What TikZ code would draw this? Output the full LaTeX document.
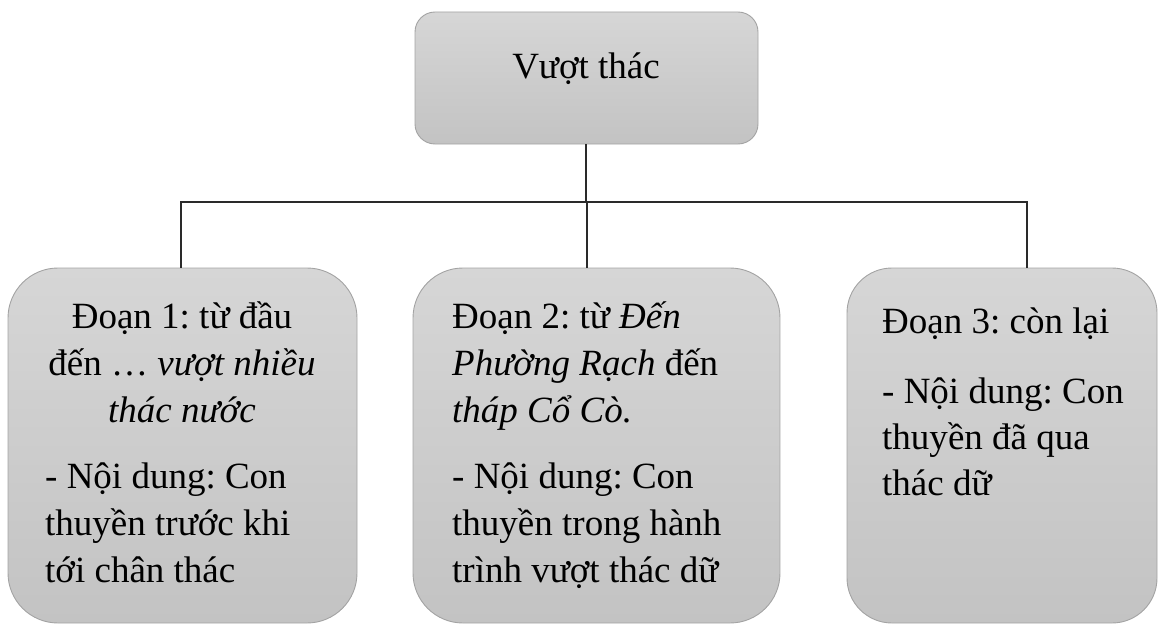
\documentclass[tikz,border=0pt]{standalone}
\usepackage{fontspec}
\setmainfont{Liberation Serif}
\frenchspacing
\definecolor{boxtop}{HTML}{D6D6D6}
\definecolor{boxbot}{HTML}{C3C3C3}
\definecolor{boxline}{HTML}{A3A3A3}
\definecolor{connline}{HTML}{2A2A2A}
\tikzset{
  gbox/.style={rectangle, draw=boxline, line width=0.9pt, top color=boxtop, bottom color=boxbot, inner sep=0pt},
  conn/.style={draw=connline, line width=1.8pt},
  txt/.style={inner sep=0pt, font=\frenchspacing\fontsize{37}{47}\selectfont},
}
\begin{document}
\begin{tikzpicture}[x=1pt,y=-1pt]
\useasboundingbox (0,0) rectangle (1158,626);
% boxes
\node[gbox, rounded corners=20pt, minimum width=343pt, minimum height=132pt] (top) at (586.5,78) {};
\node[gbox, rounded corners=50pt, minimum width=349pt, minimum height=355pt] (b1) at (182.5,445.5) {};
\node[gbox, rounded corners=50pt, minimum width=367pt, minimum height=355pt] (b2) at (596.5,445.5) {};
\node[gbox, rounded corners=45pt, minimum width=310pt, minimum height=355pt] (b3) at (1002,445.5) {};
% connectors
\coordinate (bar) at (586,202);
\coordinate (c1) at (181,202);
\coordinate (c2) at (587,202);
\coordinate (c3) at (1027,202);
\draw[conn] (top.south -| bar) -- (bar);
\draw[conn, line cap=rect] (c1 |- b1.north) -- (c1) -- (c3) -- (c3 |- b3.north);
\draw[conn] (c2) -- (c2 |- b2.north);
% texts
\node[txt, anchor=base] (t0) at (586,78) {Vượt thác};
\node[txt, anchor=base] (t1a) at (182,328) {\parbox[t]{330pt}{\centering Đoạn 1: từ đầu\\ đến … \textit{vượt nhiều}\\ \textit{thác nước}}};
\node[txt, anchor=base west] (t1b) at (45,488) {\parbox[t]{300pt}{\raggedright - Nội dung: Con\\ thuyền trước khi\\ tới chân thác}};
\node[txt, anchor=base west] (t2a) at (452,328) {\parbox[t]{320pt}{\raggedright Đoạn 2: từ \textit{Đến}\\ \textit{Phường Rạch} đến\\ \textit{tháp Cổ Cò.}}};
\node[txt, anchor=base west] (t2b) at (452,488) {\parbox[t]{320pt}{\raggedright - Nội dung: Con\\ thuyền trong hành\\ trình vượt thác dữ}};
\node[txt, anchor=base west] (t3a) at (882,333) {Đoạn 3: còn lại};
\node[txt, anchor=base west] (t3b) at (882,403) {\parbox[t]{270pt}{\raggedright\fontsize{37}{46}\selectfont - Nội dung: Con\\ thuyền đã qua\\ thác dữ}};
\end{tikzpicture}
\end{document}
